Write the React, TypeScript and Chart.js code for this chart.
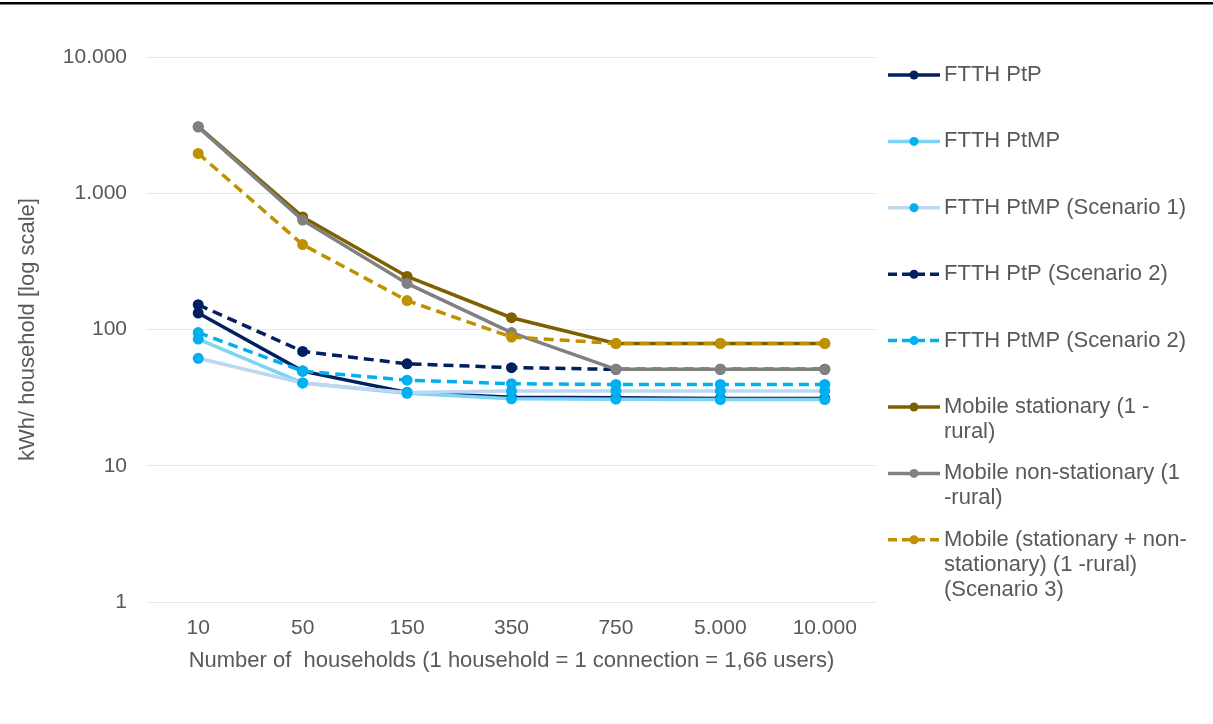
import React, { useEffect, useRef } from "react";
import { Chart, registerables } from "chart.js";

Chart.register(...registerables);

// Categories (number of households) and y-axis tick values
const households = ["10", "50", "150", "350", "750", "5.000", "10.000"];
const yTicks = [1, 10, 100, 1000, 10000];

// kWh per household for each network type
const ftthPtP = [132, 49.5, 34.5, 31.8, 31.6, 31.2, 31.2];
const ftthPtMP = [85, 40.5, 34, 31, 30.8, 30.6, 30.6];
const ftthPtMPScen1 = [61.5, 40.5, 34.5, 35.4, 35.4, 35.4, 35.4];
const ftthPtPScen2 = [152, 69, 56, 52.5, 51, 51, 51];
const ftthPtMPScen2 = [95, 49.5, 42.5, 40, 39.5, 39.5, 39.5];
const mobileStationary = [3080, 670, 245, 122, 79, 79, 79];
const mobileNonStationary = [3060, 635, 218, 95, 51, 51, 51];
const mobileScen3 = [1960, 420, 163, 88, 79, 79, 79];

const TEXT = "#595959";
const FONT = "'Liberation Sans', Arial, sans-serif";

type Series = {
  label: string;
  lines: string[];
  data: number[];
  line: string;
  marker: string;
  dashed: boolean;
};

const series: Series[] = [
  { label: "FTTH PtP", lines: ["FTTH PtP"], data: ftthPtP, line: "#002060", marker: "#002060", dashed: false },
  { label: "FTTH PtMP", lines: ["FTTH PtMP"], data: ftthPtMP, line: "#7FD4F4", marker: "#00B0F0", dashed: false },
  { label: "FTTH PtMP (Scenario 1)", lines: ["FTTH PtMP (Scenario 1)"], data: ftthPtMPScen1, line: "#BDD7EE", marker: "#00B0F0", dashed: false },
  { label: "FTTH PtP (Scenario 2)", lines: ["FTTH PtP (Scenario 2)"], data: ftthPtPScen2, line: "#002060", marker: "#002060", dashed: true },
  { label: "FTTH PtMP (Scenario 2)", lines: ["FTTH PtMP (Scenario 2)"], data: ftthPtMPScen2, line: "#00B0F0", marker: "#00B0F0", dashed: true },
  { label: "Mobile stationary (1 -rural)", lines: ["Mobile stationary (1 -", "rural)"], data: mobileStationary, line: "#7F6000", marker: "#7F6000", dashed: false },
  { label: "Mobile non-stationary (1 -rural)", lines: ["Mobile non-stationary (1", "-rural)"], data: mobileNonStationary, line: "#808080", marker: "#808080", dashed: false },
  {
    label: "Mobile (stationary + non-stationary) (1 -rural) (Scenario 3)",
    lines: ["Mobile (stationary + non-", "stationary) (1 -rural)", "(Scenario 3)"],
    data: mobileScen3,
    line: "#BF9000",
    marker: "#BF9000",
    dashed: true,
  },
];

const DASH = [10, 6];

const formatThousands = (v: number) => String(v).replace(/\B(?=(\d{3})+(?!\d))/g, ".");

// Side legend with multi-line labels and line+marker samples
const sideLegend = {
  id: "sideLegend",
  afterDraw(chart: Chart) {
    const ctx = chart.ctx;
    ctx.save();
    const x0 = 888;
    const x1 = 940;
    const textX = 944;
    series.forEach((s, i) => {
      const y = 75 + i * 66.4;
      ctx.strokeStyle = s.line;
      ctx.lineWidth = 3.5;
      ctx.setLineDash(s.dashed ? [9, 5] : []);
      ctx.beginPath();
      ctx.moveTo(x0, y);
      ctx.lineTo(x1, y);
      ctx.stroke();
      ctx.setLineDash([]);
      ctx.fillStyle = s.marker;
      ctx.beginPath();
      ctx.arc((x0 + x1) / 2, y, 4.5, 0, Math.PI * 2);
      ctx.fill();
      ctx.fillStyle = TEXT;
      ctx.font = `22px ${FONT}`;
      ctx.textBaseline = "middle";
      ctx.textAlign = "left";
      s.lines.forEach((t, j) => ctx.fillText(t, textX, y + j * 25));
    });
    ctx.restore();
  },
};

// Heavy rule across the top edge
const topRule = {
  id: "topRule",
  beforeDraw(chart: Chart) {
    const ctx = chart.ctx;
    ctx.save();
    ctx.fillStyle = "#000000";
    ctx.fillRect(0, 2, chart.width, 2.5);
    ctx.restore();
  },
};

export default function App() {
  const ref = useRef<HTMLCanvasElement>(null);

  useEffect(() => {
    document.body.style.margin = "0";
    const chart = new Chart(ref.current as HTMLCanvasElement, {
      type: "line",
      data: {
        labels: households,
        datasets: series.map((s, i) => ({
          label: s.label,
          data: s.data,
          borderColor: s.line,
          backgroundColor: s.marker,
          pointBackgroundColor: s.marker,
          pointBorderColor: s.marker,
          pointBorderWidth: 0,
          pointRadius: 5.5,
          borderWidth: 3.5,
          borderDash: s.dashed ? DASH : [],
          tension: 0,
          fill: false,
          order: series.length - i,
        })),
      },
      options: {
        responsive: false,
        animation: false,
        layout: { padding: { left: 8, right: 336, top: 57, bottom: 40 } },
        plugins: {
          legend: { display: false },
          tooltip: { enabled: false },
        },
        scales: {
          x: {
            offset: true,
            grid: { display: false, drawTicks: false },
            border: { display: false },
            ticks: { color: TEXT, font: { family: FONT, size: 21 }, padding: 14 },
            title: {
              display: true,
              text: "Number of  households (1 household = 1 connection = 1,66 users)",
              color: TEXT,
              font: { family: FONT, size: 22 },
              padding: { top: 4, bottom: 10 },
            },
            afterFit: (s: any) => {
              s.height = 82;
            },
          },
          y: {
            type: "logarithmic",
            min: 1,
            max: 10000,
            afterBuildTicks: (s: any) => {
              s.ticks = yTicks.map((v) => ({ value: v }));
            },
            grid: { color: "#E8E8E8", lineWidth: 1, drawTicks: false },
            border: { display: false },
            ticks: {
              color: TEXT,
              font: { family: FONT, size: 21 },
              padding: 19,
              callback: (v: any) => formatThousands(Number(v)),
            },
            title: {
              display: true,
              text: "kWh/ household [log scale]",
              color: TEXT,
              font: { family: FONT, size: 22 },
              padding: { top: 7, bottom: 0 },
            },
            afterFit: (s: any) => {
              s.width = 138;
            },
          },
        },
      },
      plugins: [sideLegend, topRule],
    });
    return () => chart.destroy();
  }, []);

  return (
    <div style={{ position: "absolute", left: 0, top: 0, width: 1213, height: 724, background: "#ffffff" }}>
      <canvas ref={ref} width={1213} height={724} style={{ display: "block" }} />
    </div>
  );
}
